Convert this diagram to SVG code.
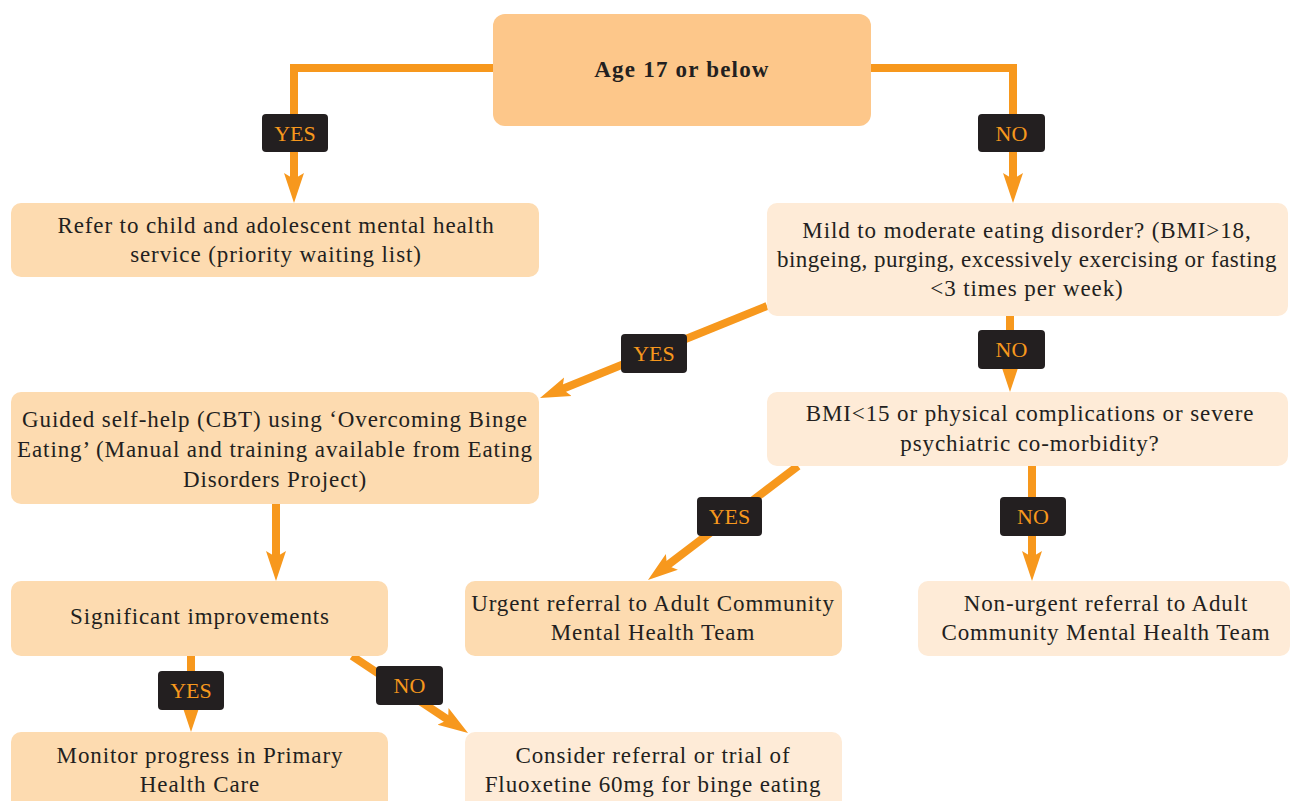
<svg xmlns="http://www.w3.org/2000/svg" width="1290" height="801" viewBox="0 0 1290 801">
<style>
.t{font-family:'Liberation Serif','Times New Roman',serif;font-size:23px;letter-spacing:0.9px;fill:#231F20;text-anchor:middle}
.b{font-weight:bold;letter-spacing:1.2px}
.top{fill:#FDC78A}
.mid{fill:#FDDBB0}
.lt{fill:#FEEBD7}
.c{fill:none;stroke:#F7981D;stroke-width:8}
.lb{fill:#231F20}
.lt2{font-family:'Liberation Serif','Times New Roman',serif;font-size:22px;fill:#F7981D;text-anchor:middle}
</style>
<defs>
<marker id="ah" markerUnits="userSpaceOnUse" viewBox="0 -11 30 22" markerWidth="30" markerHeight="22" refX="8" refY="0" orient="auto">
<path d="M0,-10 L30,0 L0,10 L6,0 Z" fill="#F7981D"/>
</marker>
</defs>
<rect width="1290" height="801" fill="#fff"/>
<g id="connectors">
<path class="c" d="M493,68 H294 V181" marker-end="url(#ah)"/>
<path class="c" d="M871,68 H1013 V181" marker-end="url(#ah)"/>
<path class="c" d="M767,306 L560.4,389.7" marker-end="url(#ah)"/>
<path class="c" d="M1010,316 V370" marker-end="url(#ah)"/>
<path class="c" d="M798,466 L665.5,566.7" marker-end="url(#ah)"/>
<path class="c" d="M1032,466 V559" marker-end="url(#ah)"/>
<path class="c" d="M276,504 V559" marker-end="url(#ah)"/>
<path class="c" d="M191,656 V710" marker-end="url(#ah)"/>
<path class="c" d="M352,656 L449.7,720.8" marker-end="url(#ah)"/>
<g id="labels">
<rect class="lb" x="262" y="114" width="66" height="38" rx="4"/><text class="lt2" x="295" y="141">YES</text>
<rect class="lb" x="978" y="114" width="67" height="38" rx="4"/><text class="lt2" x="1011.5" y="141">NO</text>
<rect class="lb" x="621" y="334" width="66" height="39" rx="4"/><text class="lt2" x="654" y="361">YES</text>
<rect class="lb" x="978" y="330" width="67" height="39" rx="4"/><text class="lt2" x="1011.5" y="357">NO</text>
<rect class="lb" x="697" y="497" width="65" height="39" rx="4"/><text class="lt2" x="729.5" y="524">YES</text>
<rect class="lb" x="1000" y="497" width="66" height="39" rx="4"/><text class="lt2" x="1033" y="524">NO</text>
<rect class="lb" x="158" y="671" width="66" height="39" rx="4"/><text class="lt2" x="191" y="698">YES</text>
<rect class="lb" x="376" y="666" width="67" height="39" rx="4"/><text class="lt2" x="409.5" y="693">NO</text>
</g>
</g>
<g id="n-age">
<rect class="top" x="493" y="14" width="378" height="112" rx="12"/>
<text class="t b" x="682" y="77">Age 17 or below</text>
</g>
<g id="n-refer">
<rect class="mid" x="11" y="203" width="528" height="74" rx="10"/>
<text class="t" x="276" y="233">Refer to child and adolescent mental health</text>
<text class="t" x="276" y="262">service (priority waiting list)</text>
</g>
<g id="n-mild">
<rect class="lt" x="767" y="203" width="521" height="113" rx="10"/>
<text class="t" x="1027" y="238">Mild to moderate eating disorder? (BMI&gt;18,</text>
<text class="t" x="1027" y="267" style="letter-spacing:0.5px">bingeing, purging, excessively exercising or fasting</text>
<text class="t" x="1027" y="296">&lt;3 times per week)</text>
</g>
<g id="n-guided">
<rect class="mid" x="11" y="392" width="528" height="112" rx="10"/>
<text class="t" x="275" y="427">Guided self-help (CBT) using ‘Overcoming Binge</text>
<text class="t" x="275" y="457">Eating’ (Manual and training available from Eating</text>
<text class="t" x="275" y="487">Disorders Project)</text>
</g>
<g id="n-bmi">
<rect class="lt" x="767" y="392" width="521" height="74" rx="10"/>
<text class="t" x="1030" y="421">BMI&lt;15 or physical complications or severe</text>
<text class="t" x="1030" y="451">psychiatric co-morbidity?</text>
</g>
<g id="n-sig">
<rect class="mid" x="11" y="581" width="377" height="75" rx="10"/>
<text class="t" x="200" y="624">Significant improvements</text>
</g>
<g id="n-urgent">
<rect class="mid" x="465" y="581" width="377" height="75" rx="10"/>
<text class="t" x="653" y="611">Urgent referral to Adult Community</text>
<text class="t" x="653" y="640">Mental Health Team</text>
</g>
<g id="n-nonurgent">
<rect class="lt" x="918" y="581" width="372" height="75" rx="10"/>
<text class="t" x="1106" y="611">Non-urgent referral to Adult</text>
<text class="t" x="1106" y="640">Community Mental Health Team</text>
</g>
<g id="n-monitor">
<rect class="mid" x="11" y="732" width="377" height="80" rx="10"/>
<text class="t" x="200" y="763">Monitor progress in Primary</text>
<text class="t" x="200" y="792">Health Care</text>
</g>
<g id="n-consider">
<rect class="lt" x="465" y="732" width="377" height="80" rx="10"/>
<text class="t" x="653" y="763">Consider referral or trial of</text>
<text class="t" x="653" y="792">Fluoxetine 60mg for binge eating</text>
</g>
</svg>
